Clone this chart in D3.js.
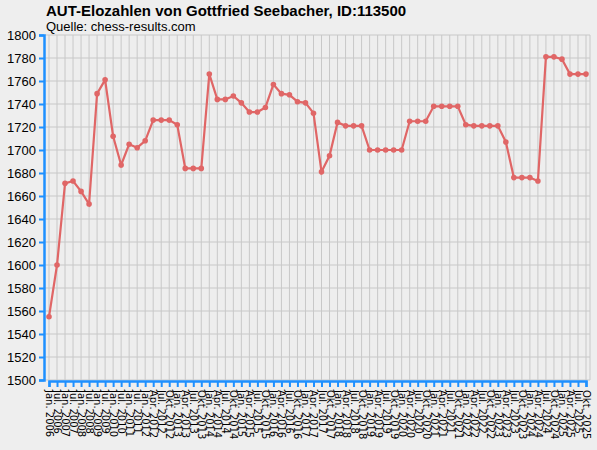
<!DOCTYPE html>
<html><head><meta charset="utf-8">
<script src="https://cdn.jsdelivr.net/npm/d3@7"></script>
<style>body{margin:0;background:#eeeeee}</style>
</head><body>
<script>
var labels = ["Jan. 2006","Jul. 2006","Jan. 2007","Jul. 2007","Jan. 2008","Jul. 2008","Jan. 2009","Jul. 2009","Jan. 2010","Jul. 2010","Jan. 2011","Jul. 2011",
  "Jan. 2012","Apr. 2012","Jul. 2012","Okt. 2012","Jan. 2013","Apr. 2013","Jul. 2013","Okt. 2013","Jan. 2014","Apr. 2014","Jul. 2014","Okt. 2014",
  "Jan. 2015","Apr. 2015","Jul. 2015","Okt. 2015","Jan. 2016","Apr. 2016","Jul. 2016","Okt. 2016","Jan. 2017","Apr. 2017","Jul. 2017","Okt. 2017",
  "Jan. 2018","Apr. 2018","Jul. 2018","Okt. 2018","Jan. 2019","Apr. 2019","Jul. 2019","Okt. 2019","Jan. 2020","Apr. 2020","Jul. 2020","Okt. 2020",
  "Jan. 2021","Apr. 2021","Jul. 2021","Okt. 2021","Jan. 2022","Apr. 2022","Jul. 2022","Okt. 2022","Jan. 2023","Apr. 2023","Jul. 2023","Okt. 2023",
  "Jan. 2024","Apr. 2024","Jul. 2024","Okt. 2024","Jan. 2025","Apr. 2025","Jul. 2025","Okt. 2025"];
var elo = [1555,1600,1671,1673,1664,1653,1749,1761,1712,1687,1705,1702,
  1708,1726,1726,1726,1722,1684,1684,1684,1766,1744,1744,1747,
  1741,1733,1733,1737,1757,1749,1748,1742,1741,1732,1681,1695,
  1724,1721,1721,1721,1700,1700,1700,1700,1700,1725,1725,1725,
  1738,1738,1738,1738,1722,1721,1721,1721,1721,1707,1676,1676,
  1676,1673,1781,1781,1779,1766,1766,1766];
var yTicks = d3.range(1500, 1801, 20);

var W = 597, H = 450;
var svg = d3.select("body").append("svg").attr("width", W).attr("height", H)
  .style("font-family", "'Liberation Sans', Arial, sans-serif");
svg.append("rect").attr("width", W).attr("height", H).attr("fill", "#eeeeee");

var pl = 45, pr = 590, pt = 35, pb = 380;
var x = d3.scalePoint().domain(labels).range([49, 586]);
var y = d3.scaleLinear().domain([1500, 1800]).range([pb, pt]);

// grid
svg.append("g").selectAll("line").data(labels).enter().append("line")
  .attr("x1", function(d){ return x(d); }).attr("x2", function(d){ return x(d); })
  .attr("y1", pt).attr("y2", pb).attr("stroke", "#c8c8c8");
svg.append("line").attr("x1", pr).attr("x2", pr).attr("y1", pt).attr("y2", pb).attr("stroke", "#c8c8c8");
svg.append("g").selectAll("line").data(yTicks).enter().append("line")
  .attr("x1", pl).attr("x2", pr)
  .attr("y1", function(d){ return y(d); }).attr("y2", function(d){ return y(d); })
  .attr("stroke", "#c8c8c8");

// axes
var ya = svg.append("g").attr("transform", "translate(" + (pl - 1) + ",0)")
  .call(d3.axisLeft(y).tickValues(yTicks).tickFormat(d3.format("d")).tickSize(5).tickPadding(3));
var xa = svg.append("g").attr("transform", "translate(0," + (pb + 1) + ")")
  .call(d3.axisBottom(x).tickSize(6).tickPadding(3));
[ya, xa].forEach(function(a){
  a.select(".domain").attr("stroke", "#1e90ff").attr("stroke-width", 2.5);
  a.selectAll(".tick line").attr("stroke", "#1e90ff").attr("stroke-width", 2);
  a.selectAll("text").attr("fill", "#000").style("font-size", "13px");
});
xa.selectAll("text").style("font-size", "10px").style("font-family", "'DejaVu Sans', sans-serif")
  .attr("transform", "rotate(90)").attr("text-anchor", "start")
  .attr("x", 9).attr("y", 0).attr("dy", "0.35em");

// line + points
svg.append("path").datum(elo)
  .attr("fill", "none").attr("stroke", "#e06666").attr("stroke-width", 2.2)
  .attr("d", d3.line().x(function(d, i){ return x(labels[i]); }).y(function(d){ return y(d); }));
svg.append("g").selectAll("circle").data(elo).enter().append("circle")
  .attr("cx", function(d, i){ return x(labels[i]); }).attr("cy", function(d){ return y(d); })
  .attr("r", 2.8).attr("fill", "#e06666");

svg.append("text").attr("x", 46).attr("y", 16).attr("font-weight", "bold").attr("font-size", "15px")
  .text("AUT-Elozahlen von Gottfried Seebacher, ID:113500");
svg.append("text").attr("x", 46).attr("y", 31).attr("font-size", "13px")
  .text("Quelle: chess-results.com");
</script>
</body></html>
